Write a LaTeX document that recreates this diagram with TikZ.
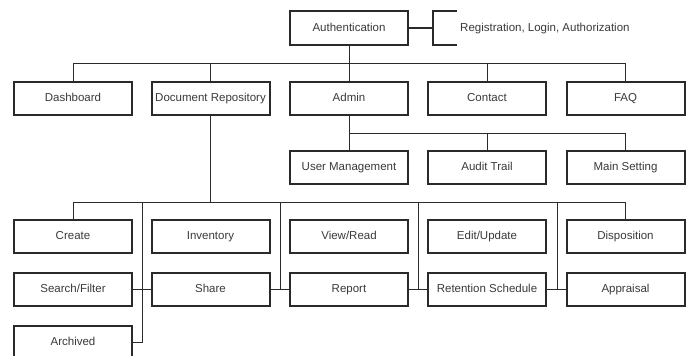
\documentclass[tikz,border=0pt]{standalone}
\usepackage{fontspec}
\setmainfont{Liberation Sans}
\definecolor{txt}{HTML}{3A3A3A}
\definecolor{frame}{HTML}{2A2A2A}
\begin{document}
\begin{tikzpicture}[x=1pt,y=-1pt,
  box/.style={draw=frame,line width=2pt,minimum width=118pt,minimum height=33pt,inner sep=0pt,
    text height=8.5pt,text depth=2.5pt,
    font=\fontsize{11.5}{13}\selectfont,text=txt},
  conn/.style={draw=frame,line width=0.9pt}]
\useasboundingbox[fill=white] (0,0) rectangle (699,356);
% top
\node[box,minimum height=34pt] (auth) at (349,28) {Authentication};
\coordinate (bk) at (433,28);
\coordinate (bkt) at (433,11);
\coordinate (bkb) at (433,45);
\coordinate (bkte) at (457,11);
\coordinate (bkbe) at (457,45);
\node[anchor=west,inner sep=0pt,text height=8.5pt,text depth=2.5pt,font=\fontsize{11.5}{13}\selectfont,text=txt] (reg) at (460,28) {Registration, Login, Authorization};
\draw[conn,line width=2pt] (auth.east) -- (bk);
\draw[conn,line width=2pt] (bkte) -- (bkt) -- (bkb) -- (bkbe);
% row 1
\node[box] (dash) at (73,98) {Dashboard};
\node[box] (doc) at (210.5,98) {Document Repository};
\node[box] (admin) at (349,98) {Admin};
\node[box] (contact) at (487,98) {Contact};
\node[box] (faq) at (625.5,98) {FAQ};
\coordinate (busA) at (0,63);
\draw[conn] (dash.north) |- (faq.north |- busA) -- (faq.north);
\draw[conn] (auth.south) -- (auth.south |- busA);
\draw[conn] (doc.north) -- (doc.north |- busA);
\draw[conn] (admin.north) -- (admin.north |- busA);
\draw[conn] (contact.north) -- (contact.north |- busA);
% admin children
\node[box] (um) at (349,167.5) {User Management};
\node[box] (at) at (487,167.5) {Audit Trail};
\node[box] (ms) at (625.5,167.5) {Main Setting};
\coordinate (busB) at (0,133);
\draw[conn] (admin.south) -- (um.north);
\draw[conn] (admin.south |- busB) -| (ms.north);
\draw[conn] (at.north) -- (at.north |- busB);
% doc children
\node[box] (create) at (73,236.5) {Create};
\node[box] (inv) at (210.5,236.5) {Inventory};
\node[box] (view) at (349,236.5) {View/Read};
\node[box] (edit) at (487,236.5) {Edit/Update};
\node[box] (disp) at (625.5,236.5) {Disposition};
\node[box] (sf) at (73,289.5) {Search/Filter};
\node[box] (share) at (210.5,289.5) {Share};
\node[box] (report) at (349,289.5) {Report};
\node[box] (ret) at (487,289.5) {Retention Schedule};
\node[box] (appr) at (625.5,289.5) {Appraisal};
\node[box] (arch) at (73,342) {Archived};
\coordinate (busC) at (0,202);
\draw[conn] (doc.south) -- (doc.south |- busC);
\draw[conn] (create.north) |- (disp.north |- busC) -- (disp.north);
\coordinate (v1) at (142,202);
\coordinate (v2) at (280,202);
\coordinate (v3) at (418,202);
\coordinate (v4) at (557,202);
\draw[conn] (arch.east) -| (v1);
\draw[conn] (sf.east) -- (share.west);
\draw[conn] (share.east) -- (report.west);
\draw[conn] (report.east) -- (ret.west);
\draw[conn] (ret.east) -- (appr.west);
\draw[conn] (v2) -- (v2 |- share.east);
\draw[conn] (v3) -- (v3 |- report.east);
\draw[conn] (v4) -- (v4 |- ret.east);
\end{tikzpicture}
\end{document}
